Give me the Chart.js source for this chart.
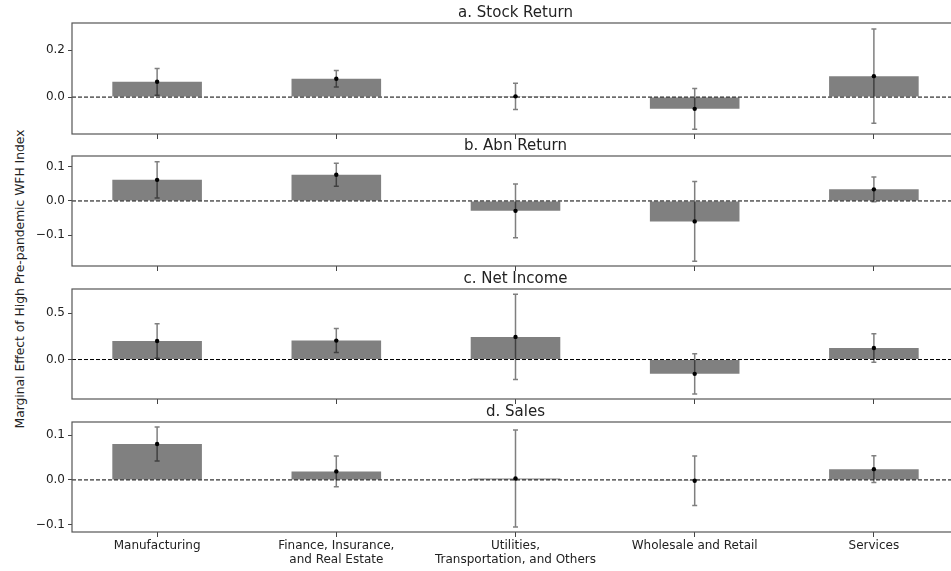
<!DOCTYPE html>
<html>
<head>
<meta charset="utf-8">
<script src="https://cdn.jsdelivr.net/npm/chart.js@4.4.1/dist/chart.umd.min.js"></script>
<style>
  body { margin: 0; width: 951px; height: 571px; overflow: hidden; background: #fff; position: relative; }
  canvas { position: absolute; left: 0; }
  #ylab {
    position: absolute; left: 20px; top: 279px; white-space: nowrap;
    transform: translate(-50%, -50%) rotate(-90deg);
    font: 12.3px "DejaVu Sans", sans-serif; color: #222;
  }
</style>
</head>
<body>
<div id="ylab">Marginal Effect of High Pre-pandemic WFH Index</div>
<canvas id="panelA" width="970" height="140" style="top:0px"></canvas>
<canvas id="panelB" width="970" height="144" style="top:128px"></canvas>
<canvas id="panelC" width="970" height="145" style="top:260px"></canvas>
<canvas id="panelD" width="970" height="178" style="top:393px"></canvas>
<script>
// industries (x axis)
const categories = [
    "Manufacturing",
    ["Finance, Insurance,", "and Real Estate"],
    ["Utilities,", "Transportation, and Others"],
    "Wholesale and Retail",
    "Services"
];

// panel titles
const panelTitles = ["a. Stock Return", "b. Abn Return", "c. Net Income", "d. Sales"];

// point estimates and half-width of the error bars
const stockReturn = [0.065, 0.078, 0.003, -0.050, 0.089];
const stockReturnErr = [0.057, 0.035, 0.056, 0.087, 0.200];
const abnReturn = [0.062, 0.077, -0.029, -0.060, 0.034];
const abnReturnErr = [0.053, 0.034, 0.079, 0.117, 0.036];
const netIncome = [0.200, 0.205, 0.245, -0.155, 0.125];
const netIncomeErr = [0.187, 0.130, 0.460, 0.217, 0.154];
const sales = [0.080, 0.019, 0.003, -0.002, 0.024];
const salesErr = [0.038, 0.034, 0.108, 0.055, 0.030];

// y axis limits and ticks per panel
const yMins = [-0.157, -0.191, -0.427, -0.116];
const yMaxs = [0.315, 0.132, 0.763, 0.129];
const yTicks = [[0, 0.2], [-0.1, 0, 0.1], [0, 0.5], [-0.1, 0, 0.1]];

const panelValues = [stockReturn, abnReturn, netIncome, sales];
const panelErrors = [stockReturnErr, abnReturnErr, netIncomeErr, salesErr];
const canvasIds = ["panelA", "panelB", "panelC", "panelD"];
const padTops = [23, 28, 29, 29];

const FONT = '"DejaVu Sans", sans-serif';

// frame, zero line, error bars and title
const panelDecor = {
    id: 'panelDecor',
    afterDatasetsDraw(chart, args, opts) {
        const ctx = chart.ctx;
        const area = chart.chartArea;
        const xs = chart.scales.x;
        const ys = chart.scales.y;

        ctx.save();
        // dashed zero line
        const y0 = ys.getPixelForValue(0);
        ctx.strokeStyle = '#000';
        ctx.lineWidth = 1;
        ctx.setLineDash([4, 2]);
        ctx.beginPath();
        ctx.moveTo(area.left, y0);
        ctx.lineTo(area.right, y0);
        ctx.stroke();
        ctx.setLineDash([]);

        // error bars
        opts.values.forEach((v, i) => {
            const x = xs.getPixelForValue(i);
            const yHi = ys.getPixelForValue(v + opts.errors[i]);
            const yLo = ys.getPixelForValue(v - opts.errors[i]);
            ctx.strokeStyle = 'rgba(0,0,0,0.5)';
            ctx.lineWidth = 1.5;
            ctx.beginPath();
            ctx.moveTo(x, yHi); ctx.lineTo(x, yLo);
            ctx.moveTo(x - 2.5, yHi); ctx.lineTo(x + 2.5, yHi);
            ctx.moveTo(x - 2.5, yLo); ctx.lineTo(x + 2.5, yLo);
            ctx.stroke();
            ctx.fillStyle = '#000';
            ctx.beginPath();
            ctx.arc(x, ys.getPixelForValue(v), 2.2, 0, Math.PI * 2);
            ctx.fill();
        });

        // frame
        ctx.strokeStyle = '#555';
        ctx.lineWidth = 1.2;
        ctx.strokeRect(area.left, area.top, area.right - area.left, area.bottom - area.top);

        // title
        ctx.fillStyle = '#222';
        ctx.font = '15px ' + FONT;
        ctx.textAlign = 'center';
        ctx.textBaseline = 'alphabetic';
        ctx.fillText(opts.title, (area.left + area.right) / 2, area.top - 6);
        ctx.restore();
    }
};

function fmtTick(v) {
    if (Math.abs(v) < 1e-9) return '0.0';
    return v.toFixed(1).replace('-', '\u2212');
}

function makePanel(p) {
    const isLast = p === 3;
    const values = panelValues[p];
    const ctx = document.getElementById(canvasIds[p]).getContext('2d');
    return new Chart(ctx, {
        type: 'bar',
        data: {
            datasets: [{
                data: values.map((v, i) => ({ x: i, y: v })),
                backgroundColor: '#808080',
                borderWidth: 0,
                barPercentage: 0.5,
                categoryPercentage: 1
            }]
        },
        plugins: [panelDecor],
        options: {
            responsive: false,
            animation: false,
            devicePixelRatio: 1,
            layout: { padding: { top: padTops[p], bottom: 0, left: 0, right: 11 } },
            plugins: {
                legend: { display: false },
                tooltip: { enabled: false },
                panelDecor: { values: values, errors: panelErrors[p], title: panelTitles[p] }
            },
            scales: {
                x: {
                    type: 'linear',
                    offset: false,
                    min: -0.475,
                    max: 4.475,
                    afterBuildTicks: s => { s.ticks = categories.map((c, i) => ({ value: i })); },
                    afterFit: s => { s.height = isLast ? 39 : 6; s.paddingLeft = 0; s.paddingRight = 0; },
                    border: { display: false },
                    grid: { offset: false, drawOnChartArea: false, drawTicks: true, tickLength: 5, color: '#444' },
                    ticks: {
                        display: isLast,
                        autoSkip: false,
                        maxRotation: 0,
                        padding: 2,
                        color: '#222',
                        font: { family: FONT, size: 12, lineHeight: 1.15 },
                        callback: (v, i) => categories[i]
                    }
                },
                y: {
                    min: yMins[p],
                    max: yMaxs[p],
                    afterBuildTicks: s => { s.ticks = yTicks[p].map(v => ({ value: v })); },
                    afterFit: s => { s.width = 72; s.paddingTop = 0; s.paddingBottom = 0; },
                    border: { display: false },
                    grid: { drawOnChartArea: false, drawTicks: true, tickLength: 4, color: '#444' },
                    ticks: {
                        padding: 3,
                        color: '#222',
                        font: { family: FONT, size: 12 },
                        callback: v => fmtTick(v)
                    }
                }
            }
        }
    });
}

for (let p = 0; p < 4; p++) {
    makePanel(p);
}
</script>
</body>
</html>
